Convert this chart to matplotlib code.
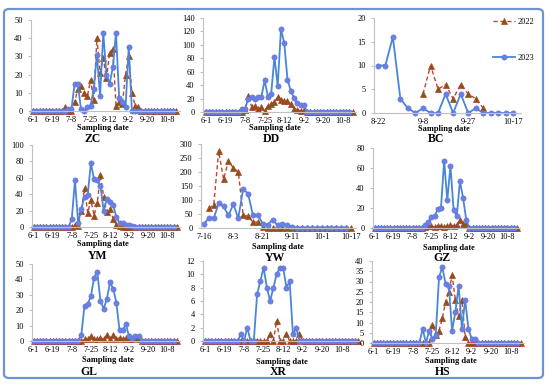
import matplotlib
matplotlib.use('Agg')
from matplotlib import pyplot as plt
from matplotlib.patches import FancyBboxPatch
import numpy as np

# tick labels of the date axes
dates_std = ['6-1', '6-19', '7-8', '7-25', '8-12', '9-2', '9-20', '10-8']
dates_bc = ['8-22', '9-8', '9-27', '10-17']
dates_yw = ['7-16', '8-3', '8-21', '9-11', '10-1', '10-17']


def series(n, values):
    # values: {index: value}, everything else is 0
    arr = np.zeros(n)
    for k, v in values.items():
        arr[k] = v
    return arr


# ZC
zc_2022 = series(46, {10: 2, 13: 5, 14: 12, 15: 14, 16: 10, 17: 8, 18: 17, 19: 6, 20: 40, 21: 21,
                      22: 29, 23: 18, 24: 32, 25: 34, 26: 3, 27: 5, 28: 4, 29: 20, 30: 30,
                      31: 10, 32: 3, 33: 2})
zc_2023 = series(45, {11: 1, 12: 1, 13: 15, 14: 15, 15: 1, 17: 2, 18: 3, 19: 12, 20: 31, 21: 8,
                      22: 43, 23: 20, 24: 15, 25: 24, 26: 43, 27: 7, 28: 5, 29: 2, 30: 35})
# DD
dd_2022 = series(46, {12: 3, 13: 24, 14: 8, 15: 9, 16: 5, 17: 8, 18: 2, 19: 9, 20: 12, 21: 15,
                      22: 22, 23: 18, 24: 17, 25: 16, 26: 12, 27: 5, 28: 3, 29: 2, 30: 3})
dd_2023 = series(45, {11: 5, 12: 5, 13: 20, 14: 22, 15: 20, 16: 22, 17: 23, 18: 47, 19: 23, 20: 27,
                      21: 82, 22: 39, 23: 123, 24: 103, 25: 48, 26: 32, 27: 21, 28: 13, 29: 10,
                      30: 10})
# BC
bc_2022 = np.array([np.nan] * 6 + [4, 10, 5, 6, 3, 6, 4, 3, 1] + [np.nan] * 4)
bc_2023 = np.array([10, 10, 16, 3, 1, 0, 1, 0, 0, 4, 0, 4, 0, 1, 0, 0, 0, 0, 0])
# YM
ym_2022 = series(46, {13: 2, 14: 1, 15: 20, 16: 47, 17: 17, 18: 33, 19: 14, 20: 29, 21: 64,
                      22: 37, 23: 18, 24: 22, 25: 10, 26: 3, 27: 1})
ym_2023 = series(45, {12: 10, 13: 57, 14: 5, 15: 22, 16: 37, 17: 39, 18: 78, 19: 58, 20: 57,
                      21: 50, 22: 20, 23: 34, 24: 31, 25: 27, 26: 12, 27: 5, 28: 5, 29: 3,
                      30: 2, 31: 1})
# YW
yw_2022 = np.array([np.nan, 70, 83, 274, 174, 240, 214, 200, 45, 42, 21, 21, 5] + [0] * 18)
yw_2023 = np.array([15, 35, 35, 88, 77, 45, 85, 35, 140, 122, 45, 45, 15, 12, 30, 10, 15, 10, 5]
                   + [0] * 11)
# GZ
gz_2022 = series(46, {16: 1, 17: 2, 18: 2, 19: 1, 20: 2, 21: 2, 22: 1, 23: 2, 24: 3, 25: 2,
                      26: 3, 27: 8, 28: 4, 29: 4})
gz_2023 = series(45, {16: 3, 17: 6, 18: 11, 19: 12, 20: 19, 21: 20, 22: 67, 23: 28, 24: 62,
                      25: 18, 26: 12, 27: 47, 28: 30, 29: 8})
# GL
gl_2022 = series(46, {16: 1, 17: 1, 18: 3, 19: 1, 20: 1, 21: 2, 22: 1, 23: 4, 24: 1, 25: 4,
                      26: 1, 27: 2, 28: 1, 29: 2, 30: 1, 31: 1, 32: 2, 33: 1})
gl_2023 = series(45, {15: 4, 16: 23, 17: 24, 18: 29, 19: 41, 20: 45, 21: 26, 22: 21, 23: 27,
                      24: 38, 25: 34, 26: 25, 27: 7, 28: 7, 29: 11, 30: 3, 31: 2, 32: 3, 33: 3})
# XR
xr_2022 = series(48, {20: 1, 22: 3, 25: 1, 29: 1})
xr_2023 = series(47, {11: 1, 13: 2, 16: 7, 17: 9, 18: 11, 19: 8, 20: 6, 21: 8, 22: 10, 23: 11,
                      24: 11, 25: 8, 26: 9, 27: 1, 28: 2})
# HS
hs_2022 = series(46, {18: 9, 19: 4, 20: 6, 21: 12, 22: 20, 23: 25, 24: 33, 25: 21, 26: 13,
                      27: 21, 28: 3})
hs_2023 = series(45, {15: 7, 17: 6, 18: 2, 19: 4, 20: 32, 21: 37, 22: 29, 23: 28, 24: 6, 25: 15,
                      26: 28, 27: 7, 28: 21, 29: 7, 30: 2, 31: 2})

W, H = 550, 386
fig = plt.figure(figsize=(W / 100, H / 100), dpi=100)
serif = 'Liberation Serif'

# rounded blue frame round the whole figure
fig.patches.append(FancyBboxPatch((4 / W, 1 - 378 / H), 539 / W, 369 / H,
                                  boxstyle='round,pad=0,rounding_size=0.01',
                                  transform=fig.transFigure, fill=False,
                                  edgecolor='#6f93d2', linewidth=1.6))


def panel(box, xlim, y22, y23, ymax, ystep, labels, lstep, name, xl_x, ti_x, lab_y, ti_y):
    left, top, right, bottom = box
    ax = fig.add_axes([left / W, 1 - bottom / H, (right - left) / W, (bottom - top) / H])
    x22 = np.arange(len(y22))
    x23 = np.arange(len(y23))
    ax.plot(x22, y22, '--', color='#c0442a', linewidth=1.0, dashes=(3, 2),
            marker='^', markersize=4.0, markerfacecolor='#7d5a1c',
            markeredgecolor='#b83a20', markeredgewidth=0.5, clip_on=False, label='2022')
    ax.plot(x23, y23, '-', color='#4a86d8', linewidth=1.3,
            marker='o', markersize=3.8, markerfacecolor='#6d7fe3',
            markeredgecolor='#5a78dc', markeredgewidth=0.4, clip_on=False, label='2023')
    ax.set_xlim(*xlim)
    ax.set_ylim(0, ymax)
    ax.set_yticks(np.arange(0, ymax + 1, ystep))
    ax.set_xticks(np.arange(len(labels)) * lstep)
    ax.set_xticklabels(labels)
    for s in ['top', 'right']:
        ax.spines[s].set_visible(False)
    ax.spines['left'].set_color('#c0c0c0')
    ax.spines['bottom'].set_color('#c0c0c0')
    ax.tick_params(axis='y', length=2, color='#c0c0c0', pad=4)
    ax.tick_params(axis='x', length=0, pad=3.5)
    for t in ax.get_xticklabels() + ax.get_yticklabels():
        t.set_fontfamily(serif)
        t.set_fontsize(6)
    fig.text(xl_x / W, 1 - lab_y / H, 'Sampling date', ha='center', va='center',
             fontfamily=serif, fontweight='bold', fontsize=6)
    fig.text(ti_x / W, 1 - ti_y / H, name, ha='center', va='center',
             fontfamily=serif, fontweight='bold', fontsize=8.5)
    return ax


panel((31, 20, 180, 111), (-0.7, 46.1), zc_2022, zc_2023, 50, 10, dates_std, 6,
      'ZC', 103, 93, 128, 139)
panel((203, 18, 356, 112), (-0.9, 46), dd_2022, dd_2023, 140, 20, dates_std, 6,
      'DD', 275, 271, 128, 139)
ax_bc = panel((374, 18, 521, 113), (-0.5, 19), bc_2022, bc_2023, 20, 5, dates_bc, 6,
              'BC', 444, 436, 129, 139)
panel((32, 145, 180, 227), (-0.5, 46), ym_2022, ym_2023, 100, 20, dates_std, 6,
      'YM', 103, 98, 244, 256)
panel((201, 144, 356, 228), (-0.6, 31), yw_2022, yw_2023, 300, 50, dates_yw, 6,
      'YW', 278, 275, 247, 258)
panel((373, 148, 520, 228), (-0.5, 46), gz_2022, gz_2023, 80, 20, dates_std, 6,
      'GZ', 449, 442, 248, 258)
panel((32, 264, 180, 341), (-0.5, 46), gl_2022, gl_2023, 50, 10, dates_std, 6,
      'GL', 108, 89, 360, 372)
panel((203, 261, 362, 341), (-0.6, 48.2), xr_2022, xr_2023, 12, 2, dates_std, 6,
      'XR', 282, 278, 362, 372)
panel((372, 261, 524, 343), (-0.5, 46), hs_2022, hs_2023, 40, 5, dates_std, 6,
      'HS', 451, 443, 361, 372)

# legend on the right of the BC panel
ax_bc.legend(loc='upper left', bbox_to_anchor=(489 / W, 1 - 14 / H),
             bbox_transform=fig.transFigure, frameon=False, borderpad=0,
             handlelength=2.6, handletextpad=0.3, labelspacing=3.3,
             prop={'family': serif, 'size': 6})

fig.savefig('out.png', dpi=100)
